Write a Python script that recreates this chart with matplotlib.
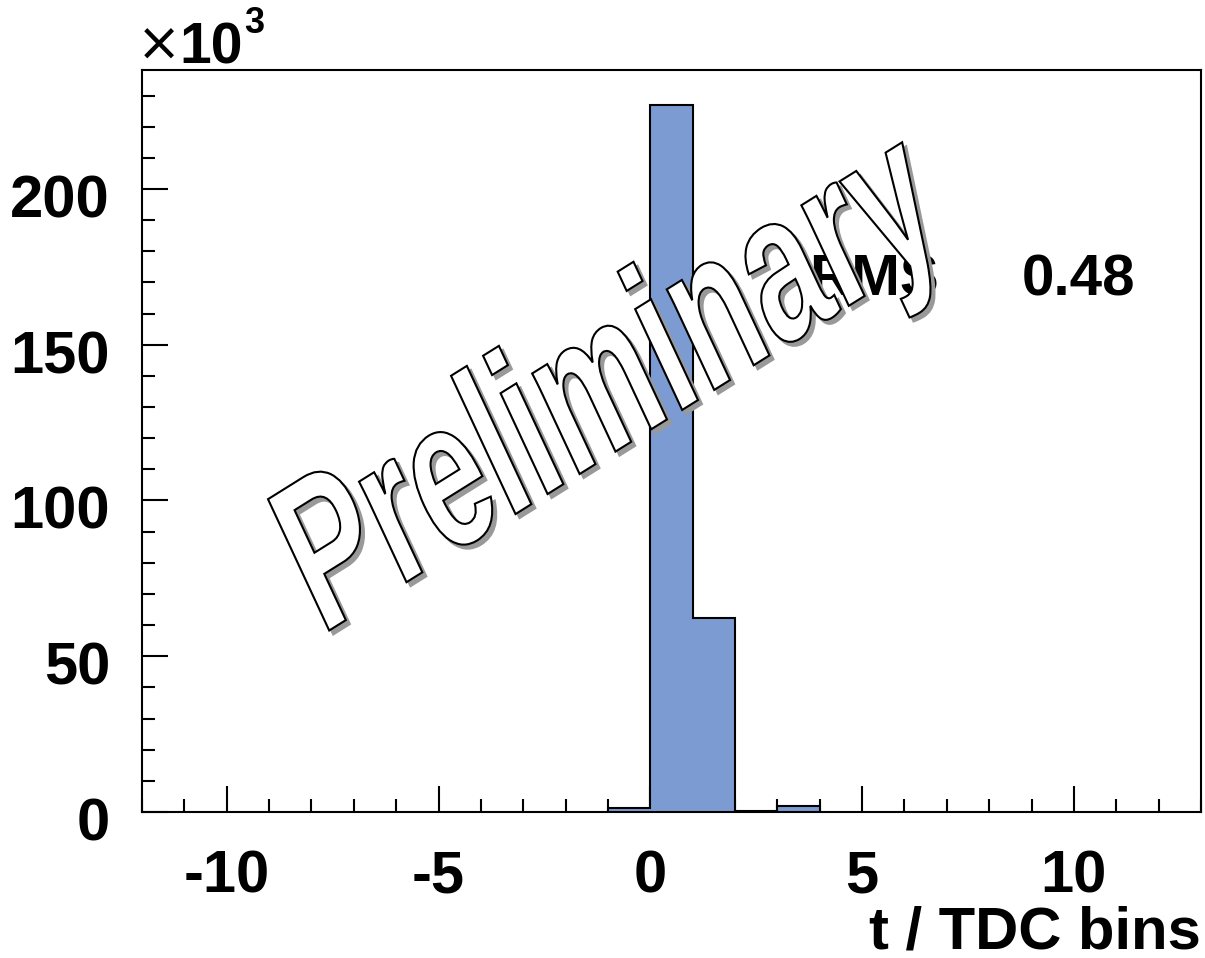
import matplotlib
matplotlib.use("Agg")
import matplotlib.pyplot as plt
import numpy as np
from matplotlib.textpath import TextPath
from matplotlib.patches import PathPatch
from matplotlib.font_manager import FontProperties
from matplotlib.transforms import Affine2D, ScaledTranslation
from matplotlib.ticker import MultipleLocator, FuncFormatter

# Histogram contents (entries per TDC bin)
bin_edges = [-1, 0, 1, 2, 3, 4]
counts = [1.4e3, 227.0e3, 62.3e3, 0.3e3, 1.9e3]
x_range = (-12, 13)
y_max_k = 238.2
rms_label = "RMS"
rms_value = "0.48"
x_title = "t / TDC bins"
watermark = "Preliminary"

plt.rcParams["font.family"] = ["Liberation Sans", "DejaVu Sans"]
plt.rcParams["font.weight"] = "bold"

W, H, DPI = 1205, 958, 100
fig = plt.figure(figsize=(W / DPI, H / DPI), dpi=DPI)
ax = fig.add_axes([142 / W, 1 - 812 / H, (1201 - 142) / W, (812 - 70) / H])

vals = np.array(counts) / 1e3
ax.stairs(vals, bin_edges, fill=True, color="#7b9bd2", zorder=2)
ax.stairs(vals, bin_edges, color="black", lw=1.5, baseline=0, zorder=3)

ax.set_xlim(*x_range)
ax.set_ylim(0, y_max_k)
ax.xaxis.set_major_locator(MultipleLocator(5))
ax.xaxis.set_minor_locator(MultipleLocator(1))
ax.yaxis.set_major_locator(MultipleLocator(50))
ax.yaxis.set_minor_locator(MultipleLocator(10))
ax.xaxis.set_major_formatter(FuncFormatter(lambda v, p: f"{v:g}"))
ax.yaxis.set_major_formatter(FuncFormatter(lambda v, p: f"{v:g}"))

ax.tick_params(which="both", direction="in", top=False, right=False,
               width=1.5, labelsize=43)
ax.tick_params(which="major", length=19)
ax.tick_params(which="minor", length=9.5)
ax.tick_params(axis="x", pad=27)
ax.tick_params(axis="y", pad=23)
for sp in ax.spines.values():
    sp.set_linewidth(1.5)

for lab in ax.get_yticklabels():
    lab.set_transform(lab.get_transform() + ScaledTranslation(0, -7 / DPI, fig.dpi_scale_trans))

ax.set_xlabel(x_title, fontsize=43, fontweight="bold", loc="right")
ax.xaxis.label.set_verticalalignment("baseline")
ax.xaxis.set_label_coords(1.0, (H - 948 - (H - 812)) / (812 - 70))

# Exponent marker for the y axis
fig.text(137 / W, 1 - 46 / H, "\u00d7", fontsize=38, fontweight="normal",
         family="DejaVu Sans", ha="left", va="center")
fig.text(179 / W, 1 - 63 / H, "10", fontsize=41, ha="left", va="baseline")
fig.text(244 / W, 1 - 33 / H, "3", fontsize=26, ha="left", va="baseline")

# Statistics line
ax.text((809 - 142) / (1201 - 142), (812 - 295) / (812 - 70), rms_label,
        transform=ax.transAxes, fontsize=42, ha="left", va="baseline", zorder=4)
ax.text((1135 - 142) / (1201 - 142), (812 - 295) / (812 - 70), rms_value,
        transform=ax.transAxes, fontsize=42, ha="right", va="baseline", zorder=4)

# Outlined watermark with drop shadow, placed in pixel coordinates
fp = FontProperties(family="Liberation Sans", weight="bold")
tp = TextPath((0, 0), watermark, size=1, prop=fp)
ang = 32.0
x0 = 330 - 10 * np.cos(np.radians(ang))
y0 = (H - 630) - 10 * np.sin(np.radians(ang))
base = Affine2D().scale(136, 209).skew_deg(7, 0).rotate_deg(ang).translate(x0, y0)
shadow = PathPatch(tp, transform=base + Affine2D().translate(4, -4),
                   fc="#999999", ec="#999999", lw=1.5, zorder=10)
front = PathPatch(tp, transform=base, fc="white", ec="black", lw=1.5, zorder=11)
fig.add_artist(shadow)
fig.add_artist(front)

fig.savefig("out.png", dpi=DPI)
